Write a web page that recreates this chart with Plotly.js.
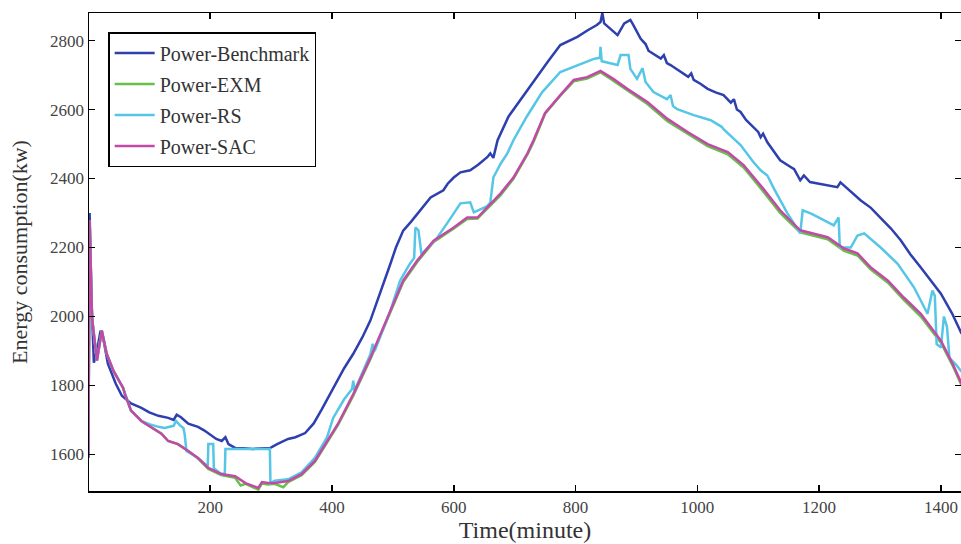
<!DOCTYPE html>
<html>
<head>
<meta charset="utf-8">
<script src="https://cdn.plot.ly/plotly-3.0.1.min.js"></script>
<style>html,body{margin:0;padding:0;background:#fff}#chart{width:961px;height:544px}</style>
</head>
<body>
<div id="chart"></div>
<script>
// Power-Benchmark
const benchT = [0,2,5,9,14,20,24,32,45,55,70,87,100,115,131,140,145,152,164,180,190,200,210,219,225,230,241,255,270,299,310,328,340,356,370,383,395,408,420,435,450,463,480,496,505,517,530,545,555,562,583,590,600,611,627,640,655,660,665,672,690,710,730,755,775,790,803,820,835,841,844,847,860,869,880,890,895,907,915,920,923,940,945,950,956,975,985,990,994,1005,1017,1030,1043,1055,1060,1065,1071,1080,1092,1100,1104,1108,1115,1125,1136,1150,1159,1169,1175,1185,1197,1215,1230,1235,1250,1268,1285,1301,1318,1334,1350,1367,1385,1400,1418,1434];
const benchP = [1590,2300,2050,1866,1900,1959,1940,1863,1805,1770,1748,1735,1722,1712,1706,1700,1715,1708,1689,1680,1670,1658,1645,1639,1650,1630,1619,1618,1616,1619,1630,1645,1650,1662,1690,1730,1770,1814,1850,1892,1940,1988,2070,2153,2200,2249,2275,2307,2330,2345,2366,2385,2403,2418,2424,2440,2462,2473,2460,2511,2580,2630,2680,2740,2787,2800,2811,2830,2845,2854,2880,2850,2830,2816,2850,2860,2845,2805,2790,2770,2767,2748,2758,2735,2729,2705,2695,2705,2686,2675,2660,2650,2642,2620,2630,2600,2593,2570,2549,2535,2520,2530,2505,2480,2453,2437,2427,2395,2409,2390,2386,2380,2375,2389,2365,2337,2315,2287,2255,2221,2180,2142,2100,2066,2010,1950];

// Power-EXM
const exmT = [0,2,6,14,22,30,41,57,60,70,87,109,120,131,147,164,180,197,218,241,250,258,279,285,295,306,320,328,350,372,392,410,435,463,491,517,540,567,600,622,639,655,677,698,721,731,750,775,797,819,841,862,885,918,951,984,1017,1050,1076,1104,1136,1169,1190,1214,1241,1263,1285,1313,1339,1367,1400,1420,1434];
const exmP = [1590,2280,1996,1872,1959,1892,1843,1793,1775,1727,1697,1674,1660,1639,1630,1610,1588,1558,1540,1532,1510,1515,1498,1516,1513,1515,1505,1520,1540,1578,1636,1686,1770,1876,1992,2100,2158,2216,2255,2283,2284,2312,2352,2399,2470,2506,2588,2640,2682,2690,2708,2684,2655,2616,2566,2530,2494,2470,2432,2372,2300,2244,2234,2224,2190,2177,2136,2098,2048,2000,1924,1855,1800];

// Power-RS
const rsT = [0,2,6,14,22,30,41,57,70,87,100,115,125,140,144,150,156,158,161,180,196,197,205,206,218,224,225,298,299,306,328,350,372,392,402,420,433,435,437,463,467,470,496,512,528,535,537,542,547,573,589,611,627,633,655,660,665,677,688,698,720,745,775,803,830,840,841,843,869,874,887,890,901,910,915,928,950,956,960,967,994,1022,1040,1043,1071,1092,1104,1115,1126,1148,1169,1173,1186,1203,1224,1232,1234,1252,1263,1274,1301,1329,1356,1378,1386,1390,1393,1400,1405,1410,1414,1425,1434];
const rsP = [1590,2280,1996,1872,1959,1892,1843,1793,1727,1697,1688,1680,1677,1683,1697,1685,1677,1660,1610,1590,1565,1630,1630,1560,1543,1545,1616,1616,1517,1524,1528,1548,1590,1650,1706,1760,1790,1814,1785,1890,1921,1900,2017,2104,2153,2170,2258,2250,2180,2229,2270,2328,2331,2302,2320,2330,2403,2443,2473,2511,2580,2650,2709,2729,2747,2750,2782,2740,2729,2758,2758,2718,2689,2720,2680,2651,2630,2642,2610,2601,2584,2569,2550,2543,2497,2448,2424,2409,2370,2299,2241,2308,2299,2284,2264,2287,2200,2200,2235,2241,2200,2153,2084,2008,2075,2060,1920,1910,2000,1970,1880,1860,1840];

// Power-SAC
const sacT = [0,2,6,14,22,30,41,57,60,70,87,109,120,131,147,164,180,197,218,241,258,279,285,295,306,328,350,372,392,410,435,463,491,517,540,567,600,622,639,655,677,698,721,731,750,775,797,819,841,862,885,918,951,984,1017,1050,1076,1104,1136,1169,1190,1214,1241,1263,1285,1313,1339,1367,1400,1420,1434];
const sacP = [1590,2280,1996,1872,1959,1892,1843,1793,1775,1727,1697,1674,1660,1639,1630,1610,1590,1561,1543,1537,1517,1503,1520,1517,1517,1523,1543,1581,1640,1689,1775,1880,1996,2104,2162,2220,2258,2287,2287,2316,2357,2403,2473,2511,2590,2642,2686,2694,2712,2689,2660,2622,2573,2535,2500,2477,2439,2380,2308,2250,2240,2230,2197,2183,2142,2104,2055,2008,1930,1860,1805];

const names = ['Power-Benchmark','Power-EXM','Power-RS','Power-SAC'];
const colors = ['#2E3FAE','#66C04A','#55C6E6','#C24AA6'];
const xs = [benchT, exmT, rsT, sacT];
const ys = [benchP, exmP, rsP, sacP];

const traces = names.map((n,i)=>({
  x: xs[i], y: ys[i], name: n, type:'scatter', mode:'lines',
  line:{color:colors[i], width:2.5}, legendgroup:'g'+i
}));

const serif = 'Liberation Serif, Times New Roman, serif';
const layout = {
  width:961, height:544,
  margin:{l:89, r:0, t:13, b:53},
  paper_bgcolor:'#fff', plot_bgcolor:'#fff',
  font:{family:serif, color:'#333'},
  showlegend:true,
  legend:{x:0.022, y:0.96, xanchor:'left', yanchor:'top',
    bordercolor:'#000', borderwidth:1.5, bgcolor:'#fff',
    font:{family:serif, size:20, color:'#333'},
    tracegroupgap:2, itemwidth:40},
  xaxis:{range:[1,1433], tickvals:[200,400,600,800,1000,1200,1400],
    showgrid:false, zeroline:false, showline:true, linecolor:'#000', linewidth:1.5,
    mirror:'ticks', ticks:'inside', ticklen:6, tickwidth:1.5, tickcolor:'#000',
    tickfont:{family:serif, size:17, color:'#444'},
    title:{text:'Time(minute)', font:{family:serif, size:24, color:'#333'}, standoff:3}},
  yaxis:{range:[1494,2880], tickvals:[1600,1800,2000,2200,2400,2600,2800],
    showgrid:false, zeroline:false, showline:true, linecolor:'#000', linewidth:1.5,
    mirror:'ticks', ticks:'inside', ticklen:6, tickwidth:1.5, tickcolor:'#000',
    tickfont:{family:serif, size:17, color:'#444'},
    title:{text:'Energy consumption(kw)', font:{family:serif, size:22, color:'#333'}, standoff:16}}
};
Plotly.newPlot('chart', traces, layout, {displayModeBar:false, staticPlot:true});
</script>
</body>
</html>
